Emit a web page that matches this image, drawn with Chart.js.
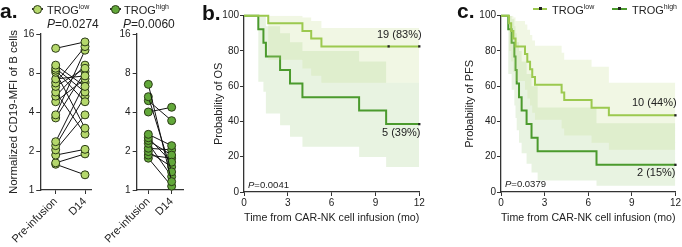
<!DOCTYPE html>
<html>
<head>
<meta charset="utf-8">
<script src="https://cdn.jsdelivr.net/npm/chart.js@4.4.1/dist/chart.umd.min.js"></script>
<style>
body{margin:0;width:682px;height:247px;position:relative;background:#fff;font-family:"Liberation Sans",Arial,sans-serif;color:#222;overflow:hidden}
.box{position:absolute}
.t{position:absolute;white-space:nowrap;line-height:1}
.lab{font-weight:bold;font-size:21px;color:#111}
sup{font-size:7px;vertical-align:5px}
.ln{position:absolute;height:2px}
.dot{position:absolute;width:7px;height:7px;border-radius:50%;border:1px solid #2b3b16}
.sq{position:absolute;width:3px;height:3px;background:#222}
</style>
</head>
<body>
<div class="box" style="left:2px;top:20px;width:96px;height:227px"><canvas id="a1" width="96" height="227"></canvas></div>
<div class="box" style="left:100px;top:20px;width:90px;height:227px"><canvas id="a2" width="90" height="227"></canvas></div>
<div class="box" style="left:208px;top:0;width:222px;height:229px"><canvas id="b" width="222" height="229"></canvas></div>
<div class="box" style="left:459px;top:0;width:223px;height:229px"><canvas id="c" width="223" height="229"></canvas></div>

<div class="t lab" style="left:0;top:0">a.</div>
<div class="t lab" style="left:202px;top:2px">b.</div>
<div class="t lab" style="left:457px;top:0">c.</div>

<div class="ln" style="left:32px;top:8px;width:11px;background:#333"></div>
<div class="dot" style="left:33px;top:5px;background:#b5d86c"></div>
<div class="t" style="left:47px;top:3px;font-size:11px">TROG<sup>low</sup></div>
<div class="ln" style="left:110px;top:8px;width:11px;background:#333"></div>
<div class="dot" style="left:111px;top:5px;background:#62a83a"></div>
<div class="t" style="left:124px;top:3px;font-size:11px">TROG<sup>high</sup></div>
<div class="t" style="left:47px;top:18px;font-size:12px"><i>P</i>=0.0274</div>
<div class="t" style="left:123px;top:18px;font-size:12px"><i>P</i>=0.0060</div>

<div class="t" style="left:377px;top:29px;font-size:11px">19 (83%)</div>
<div class="t" style="left:382px;top:127px;font-size:11px">5 (39%)</div>
<div class="t" style="left:248px;top:180px;font-size:9.5px"><i>P</i>=0.0041</div>

<div class="ln" style="left:533px;top:8px;width:14px;background:#9cc94f"></div>
<div class="sq" style="left:539px;top:7px"></div>
<div class="t" style="left:552px;top:3px;font-size:11px">TROG<sup>low</sup></div>
<div class="ln" style="left:612px;top:8px;width:15px;background:#4b9a2d"></div>
<div class="sq" style="left:618px;top:7px"></div>
<div class="t" style="left:632px;top:3px;font-size:11px">TROG<sup>high</sup></div>
<div class="t" style="left:632px;top:97px;font-size:11px">10 (44%)</div>
<div class="t" style="left:637px;top:167px;font-size:11px">2 (15%)</div>
<div class="t" style="left:505px;top:179px;font-size:9.5px"><i>P</i>=0.0379</div>

<script>
// panel a: paired values, same index = same patient
var timepoints = ["Pre-infusion", "D14"];
var aTicks = [1, 2, 4, 8, 16];
var lowPre = [12.4, 9.2, 8.7, 8.4, 8.1, 7.2, 6.7, 6.3, 5.7, 5.3, 4.8, 3.8, 3.6, 2.36, 2.2, 2.04, 1.86, 1.62, 1.58];
var lowD14 = [13.9, 6.3, 5.7, 4.8, 3.0, 7.6, 12.8, 8.7, 2.7, 9.2, 7.2, 12.0, 8.2, 6.7, 5.3, 3.8, 2.06, 1.9, 1.31];
var highPre = [6.54, 5.25, 4.89, 4.0, 2.69, 2.53, 2.41, 2.29, 2.1, 1.98, 1.86, 1.76];
var highD14 = [1.16, 1.38, 3.43, 4.35, 2.2, 1.64, 1.86, 1.27, 2.04, 1.51, 1.76, 1.07];

// panel b: overall survival (Kaplan-Meier)
var osLowT = [0, 1.66, 4.0, 4.6, 5.3, 12];
var osLowS = [100, 95.7, 91.3, 87.0, 82.6, 82.6];
var osLowUp = [100, 100, 99, 97, 93, 93];
var osLowLo = [100, 75, 70, 66, 62, 62];
var osLowCens = [9.9, 12];
var osHighT = [0, 0.98, 1.33, 1.5, 2.47, 3.15, 4.0, 7.88, 9.73, 12];
var osHighS = [100, 92.3, 84.6, 76.9, 69.2, 61.5, 53.8, 46.2, 38.5, 38.5];
var osHighUp = [100, 100, 100, 94, 90, 85, 80, 74, 62, 62];
var osHighLo = [100, 62.5, 56.8, 44.5, 37.9, 31.3, 25.6, 19.9, 14.2, 14.2];
var osHighCens = [12];

// panel c: progression free survival
var pfsLowT = [0, 0.55, 0.7, 0.85, 1.0, 1.65, 1.81, 2.0, 2.15, 2.34, 4.17, 4.35, 6.23, 7.42, 12];
var pfsLowS = [100, 95.7, 91.3, 87.0, 82.6, 78.3, 73.9, 69.6, 65.2, 60.9, 56.5, 52.2, 47.8, 43.5, 43.5];
var pfsLowUp = [100, 100, 100, 99, 97, 95, 92, 89, 86, 83, 79, 75, 71, 62, 62];
var pfsLowLo = [100, 80, 74, 68, 63, 58, 53, 49, 45, 41, 36, 32, 28, 24, 24];
var pfsLowCens = [12];
var pfsHighT = [0, 0.5, 0.73, 0.92, 1.0, 1.08, 1.24, 1.42, 1.76, 2.1, 2.52, 6.57, 12];
var pfsHighS = [100, 92.3, 84.6, 76.9, 69.2, 61.5, 53.8, 46.2, 38.5, 30.8, 23.1, 15.4, 15.4];
var pfsHighUp = [100, 100, 98, 94, 90, 85, 80, 74, 67, 60, 48, 39, 39];
var pfsHighLo = [100, 67, 58, 49, 42, 35, 28, 22, 16, 11, 6.5, 3.5, 3.5];
var pfsHighCens = [12];

var kmTicks = [0, 3, 6, 9, 12];

var lowColor = "#9cc94f";
var highColor = "#4b9a2d";
var axisColor = "#333";

Chart.defaults.font.family = '"Liberation Sans", Arial, sans-serif';
Chart.defaults.color = "#222";
Chart.defaults.animation = false;

function pairSets(pre, d14, fill) {
  return pre.map(function(v, i) {
    return {
      data: [{x: 0, y: v}, {x: 1, y: d14[i]}],
      showLine: true,
      borderColor: "#111",
      borderWidth: 1,
      pointRadius: 4,
      pointBackgroundColor: fill,
      pointBorderColor: "#2b3b16",
      pointBorderWidth: 1,
      clip: false
    };
  });
}

function makePairChart(id, pre, d14, fill, xmin, xmax, yWidth, showTitle) {
  return new Chart(document.getElementById(id), {
    type: "scatter",
    data: {datasets: pairSets(pre, d14, fill)},
    options: {
      responsive: false,
      layout: {padding: {top: 14, right: id == "a1" ? 6.3 : 6.7, left: 0, bottom: 0}},
      plugins: {legend: {display: false}, tooltip: {enabled: false}},
      scales: {
        x: {
          type: "linear", min: xmin, max: xmax,
          afterBuildTicks: function(s) { s.ticks = [{value: 0}, {value: 1}]; },
          afterFit: function(s) { s.height = 57; },
          ticks: {
            autoSkip: false, minRotation: 45, maxRotation: 45, padding: 1,
            font: {size: 11}, color: "#222",
            callback: function(v) { return timepoints[v]; }
          },
          grid: {drawOnChartArea: false, drawTicks: true, tickLength: 4, color: axisColor},
          border: {color: axisColor, width: 1.3}
        },
        y: {
          type: "logarithmic", min: 1, max: 16,
          afterBuildTicks: function(s) { s.ticks = aTicks.map(function(v) { return {value: v}; }); },
          afterFit: function(s) { s.width = yWidth; },
          ticks: {font: {size: 10}, padding: 2, color: "#222", callback: function(v) { return v; }},
          grid: {drawOnChartArea: false, drawTicks: true, tickLength: 4, color: axisColor},
          border: {color: axisColor, width: 1.3},
          title: {display: showTitle, text: "Normalized CD19-MFI of B cells", font: {size: 11.5}, color: "#222"}
        }
      }
    }
  });
}

makePairChart("a1", lowPre, lowD14, "#b5d86c", -0.526, 1.228, 37.3, true);
makePairChart("a2", highPre, highD14, "#62a83a", -0.5, 1.5, 23.3, false);

function pts(t, v) {
  return t.map(function(x, i) { return {x: x, y: v[i]}; });
}

function kmSets(g) {
  return [
    {data: pts(g.cens, g.cens.map(function() { return g.s[g.s.length - 1]; })), showLine: false,
      pointStyle: "rect", pointRadius: 1.6, pointBackgroundColor: "#222", pointBorderWidth: 0, clip: false},
    {data: pts(g.t, g.s), stepped: "before", borderColor: g.color, borderWidth: 2, pointRadius: 0, fill: false, clip: false},
    {data: pts(g.t, g.up), stepped: "before", borderWidth: 0, pointRadius: 0, fill: "+1", backgroundColor: g.band},
    {data: pts(g.t, g.lo), stepped: "before", borderWidth: 0, pointRadius: 0, fill: false}
  ];
}

function makeKM(id, groups, title, yWidth, padRight) {
  var sets = [];
  groups.forEach(function(g) { sets = sets.concat(kmSets(g)); });
  return new Chart(document.getElementById(id), {
    type: "line",
    data: {datasets: sets},
    options: {
      responsive: false,
      layout: {padding: {top: 15.7, right: padRight, left: 0, bottom: 0}},
      plugins: {legend: {display: false}, tooltip: {enabled: false}},
      scales: {
        x: {
          type: "linear", min: 0, max: 12,
          afterBuildTicks: function(s) { s.ticks = kmTicks.map(function(v) { return {value: v}; }); },
          afterFit: function(s) { s.height = 37; },
          ticks: {font: {size: 10}, padding: 1, color: "#222", maxRotation: 0},
          grid: {drawOnChartArea: false, drawTicks: true, tickLength: 4, color: axisColor},
          border: {color: axisColor, width: 1.3},
          title: {display: true, text: "Time from CAR-NK cell infusion (mo)", font: {size: 11}, color: "#222"}
        },
        y: {
          min: 0, max: 100,
          ticks: {stepSize: 20, font: {size: 10}, padding: 1, color: "#222"},
          afterFit: function(s) { s.width = yWidth; },
          grid: {drawOnChartArea: false, drawTicks: true, tickLength: 4, color: axisColor},
          border: {color: axisColor, width: 1.3},
          title: {display: true, text: title, font: {size: 11}, color: "#222"}
        }
      }
    }
  });
}

makeKM("b", [
  {t: osLowT, s: osLowS, up: osLowUp, lo: osLowLo, cens: osLowCens, color: lowColor, band: "rgba(190,220,130,0.22)"},
  {t: osHighT, s: osHighS, up: osHighUp, lo: osHighLo, cens: osHighCens, color: highColor, band: "rgba(150,200,120,0.22)"}
], "Probability of OS", 36, 10.7);

makeKM("c", [
  {t: pfsLowT, s: pfsLowS, up: pfsLowUp, lo: pfsLowLo, cens: pfsLowCens, color: lowColor, band: "rgba(190,220,130,0.22)"},
  {t: pfsHighT, s: pfsHighS, up: pfsHighUp, lo: pfsHighLo, cens: pfsHighCens, color: highColor, band: "rgba(150,200,120,0.22)"}
], "Probability of PFS", 42, 6.3);
</script>
</body>
</html>
